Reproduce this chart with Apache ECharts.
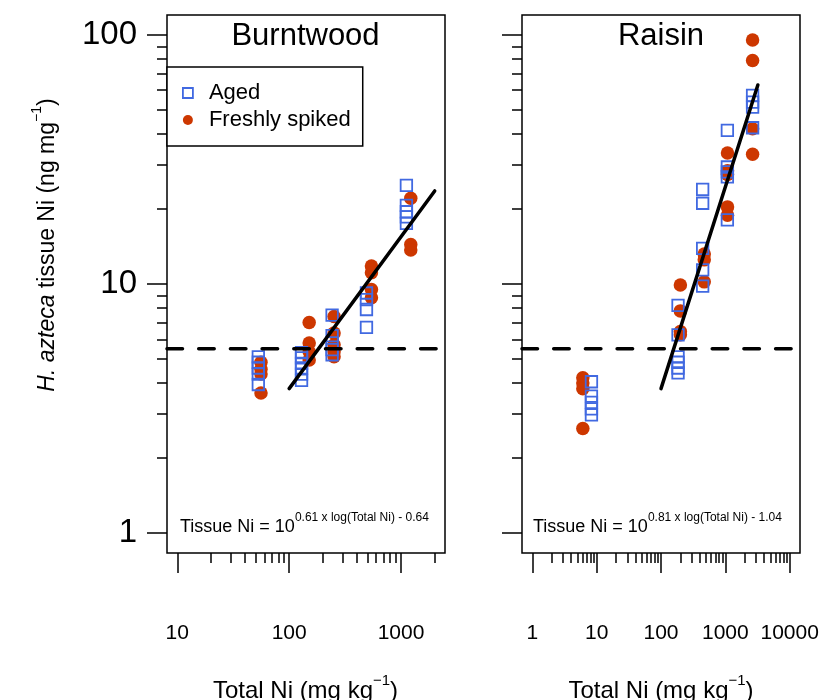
<!DOCTYPE html>
<html>
<head>
<meta charset="utf-8">
<script src="https://cdn.jsdelivr.net/npm/echarts@6/dist/echarts.min.js"></script>
<style>
html, body { margin: 0; background: #fff; }
#chart { width: 822px; height: 700px; }
</style>
</head>
<body>
<div id="chart"></div>
<script>
// [total Ni (mg/kg), tissue Ni (ng/mg)]
var burntwoodAged = [
    [53, 5.1], [53, 4.85], [53, 4.6], [53, 4.35], [53, 3.95],
    [129, 5.3], [129, 5.05], [129, 4.8], [129, 4.6], [129, 4.35], [129, 4.1],
    [242, 7.5], [242, 6.2], [242, 5.8], [242, 5.45], [242, 5.2],
    [491, 9.2], [491, 8.65], [491, 7.9], [491, 6.7],
    [1117, 24.9], [1117, 20.7], [1117, 19.5], [1117, 18.6], [1117, 17.5]
];
var burntwoodSpiked = [
    [56, 4.85], [56, 4.55], [56, 4.35], [56, 3.65],
    [151, 7.0], [151, 5.8], [151, 5.35], [151, 4.95],
    [252, 7.4], [252, 6.35], [252, 5.7], [252, 5.35], [252, 5.1],
    [544, 11.8], [544, 11.1], [544, 9.5], [544, 8.8],
    [1222, 22.1], [1222, 14.4], [1222, 13.7]
];
var raisinAged = [
    [8.3, 4.05], [8.3, 3.55], [8.3, 3.35], [8.3, 3.15], [8.3, 2.98],
    [184, 8.2], [184, 6.25], [184, 5.1], [184, 4.85], [184, 4.6], [184, 4.4],
    [444, 24.0], [444, 21.1], [444, 13.9], [444, 11.4], [444, 9.8],
    [1075, 41.4], [1075, 29.5], [1075, 28.2], [1075, 26.9], [1075, 18.1],
    [2650, 57.2], [2650, 53.7], [2650, 51.3], [2650, 42.4]
];
var raisinSpiked = [
    [6.1, 4.2], [6.1, 4.0], [6.1, 3.8], [6.1, 2.63],
    [200, 9.9], [200, 7.8], [200, 6.45], [200, 6.25],
    [470, 13.2], [470, 12.5], [470, 10.2],
    [1080, 33.6], [1080, 28.5], [1080, 27.5], [1080, 20.4], [1080, 18.9],
    [2650, 95.5], [2650, 78.9], [2650, 42.0], [2650, 33.2]
];

// fitted lines: log(tissue) = slope * log(total) + intercept
var burntwoodFit = [0.61, -0.64];
var burntwoodFitRange = [100, 2000];
var raisinFit = [0.81, -1.04];
var raisinFitRange = [100, 3200];
var thresholdNi = 5.5;

var burntwoodXLim = [10, 2000];
var raisinXLim = [1, 10000];
var yLim = [1, 100];
var burntwoodXTicks = [10, 100, 1000];
var raisinXTicks = [1, 10, 100, 1000, 10000];
var yTicks = [1, 10, 100];

var FONT = '"Liberation Sans", Arial, Helvetica, sans-serif';
var BLUE = '#4169E1';
var RED = '#CD3700';

function L(v) { return Math.log10(v); }

// R style log range: limits padded by 4% on each side
function padLog(lim) {
    var a = L(lim[0]), b = L(lim[1]), d = 0.04 * (b - a);
    return [a - d, b + d];
}

function minorTicks(lim) {
    var out = [];
    for (var e = Math.floor(L(lim[0])); e < Math.ceil(L(lim[1])); e++) {
        for (var m = 2; m <= 9; m++) {
            var v = m * Math.pow(10, e);
            if (v >= lim[0] && v <= lim[1]) out.push(L(v));
        }
    }
    return out;
}

function tickAxis(dim, grid, range, values, len, labels) {
    return {
        type: 'value',
        gridIndex: grid,
        min: range[0],
        max: range[1],
        position: dim === 'x' ? 'bottom' : 'left',
        axisLine: { show: false, onZero: false },
        splitLine: { show: false },
        axisTick: {
            show: true,
            inside: false,
            length: len,
            customValues: values,
            lineStyle: { color: '#000', width: 1.5 }
        },
        axisLabel: {
            show: labels,
            customValues: values,
            formatter: function (v) { return String(Math.round(Math.pow(10, v))); },
            fontFamily: FONT,
            color: '#000',
            fontSize: dim === 'x' ? 21 : 33,
            margin: dim === 'x' ? 70 : 30
        }
    };
}

var bx = padLog(burntwoodXLim);
var rx = padLog(raisinXLim);
var yr = padLog(yLim);

function toLog(arr) {
    return arr.map(function (d) { return [L(d[0]), L(d[1])]; });
}

function fitLine(coef, range) {
    return range.map(function (x) { return [L(x), coef[0] * L(x) + coef[1]]; });
}

function panelSeries(g, aged, spiked, coef, fitRange, xr) {
    return [{
        name: 'Freshly spiked',
        type: 'scatter',
        xAxisIndex: g * 2, yAxisIndex: g * 2,
        symbol: 'circle',
        symbolSize: 13.5,
        itemStyle: { color: RED, opacity: 1 },
        data: toLog(spiked)
    }, {
        name: 'Aged',
        type: 'scatter',
        xAxisIndex: g * 2, yAxisIndex: g * 2,
        symbol: 'rect',
        symbolSize: 11.5,
        itemStyle: { color: 'rgba(255,255,255,0)', borderColor: BLUE, borderWidth: 1.8, opacity: 1 },
        data: toLog(aged)
    }, {
        type: 'line',
        xAxisIndex: g * 2, yAxisIndex: g * 2,
        symbol: 'none',
        silent: true,
        lineStyle: { color: '#000', width: 3.5, type: [15.5, 16.2], cap: 'round' },
        data: [[xr[0], L(thresholdNi)], [xr[1], L(thresholdNi)]]
    }, {
        type: 'line',
        xAxisIndex: g * 2, yAxisIndex: g * 2,
        symbol: 'none',
        silent: true,
        lineStyle: { color: '#000', width: 3.5, cap: 'round' },
        data: fitLine(coef, fitRange)
    }];
}

function eqText(x, slope, icpt) {
    return {
        type: 'text', x: x, y: 511.8,
        style: {
            text: '{a|Tissue Ni = 10}{b|' + slope + ' x log(Total Ni) - ' + icpt + '}',
            fill: '#000',
            align: 'left', textAlign: 'left',
            verticalAlign: 'top', textVerticalAlign: 'top',
            rich: {
                a: { fontSize: 18, fontFamily: FONT, lineHeight: 24, verticalAlign: 'bottom' },
                b: { fontSize: 12, fontFamily: FONT, lineHeight: 12, verticalAlign: 'top' }
            }
        }
    };
}

function xName(x) {
    return {
        type: 'text', x: x, y: 688,
        style: {
            text: '{n|Total Ni (mg kg}{s|\u22121}{n|)}',
            fill: '#000',
            align: 'center', textAlign: 'center',
            verticalAlign: 'middle', textVerticalAlign: 'middle',
            rich: {
                n: { fontSize: 24, fontFamily: FONT, lineHeight: 30, verticalAlign: 'bottom' },
                s: { fontSize: 15, fontFamily: FONT, lineHeight: 10, verticalAlign: 'top' }
            }
        }
    };
}

function titleText(x, text) {
    return {
        type: 'text', x: x, y: 36,
        style: {
            text: text, fill: '#000', fontSize: 31, fontFamily: FONT,
            align: 'center', textAlign: 'center',
            verticalAlign: 'middle', textVerticalAlign: 'middle'
        }
    };
}

var chart = echarts.init(document.getElementById('chart'));

var option = {
    animation: false,
    backgroundColor: '#fff',
    grid: [
        { left: 167, top: 15, width: 278, height: 538, show: true, borderColor: '#000', borderWidth: 1.5, backgroundColor: 'transparent' },
        { left: 522, top: 15, width: 278, height: 538, show: true, borderColor: '#000', borderWidth: 1.5, backgroundColor: 'transparent' }
    ],
    xAxis: [
        tickAxis('x', 0, bx, burntwoodXTicks.map(L), 20, true),
        tickAxis('x', 0, bx, minorTicks(burntwoodXLim), 10, false),
        tickAxis('x', 1, rx, raisinXTicks.map(L), 20, true),
        tickAxis('x', 1, rx, minorTicks(raisinXLim), 10, false)
    ],
    yAxis: [
        tickAxis('y', 0, yr, yTicks.map(L), 20, true),
        tickAxis('y', 0, yr, minorTicks(yLim), 10, false),
        tickAxis('y', 1, yr, yTicks.map(L), 20, false),
        tickAxis('y', 1, yr, minorTicks(yLim), 10, false)
    ],
    legend: {
        orient: 'vertical',
        left: 167,
        top: 67,
        padding: [15, 12, 15, 15],
        itemWidth: 10,
        itemHeight: 10,
        itemGap: 5,
        borderColor: '#000',
        borderWidth: 1.5,
        borderRadius: 0,
        backgroundColor: '#fff',
        selectedMode: false,
        textStyle: { fontSize: 22, fontFamily: FONT, color: '#000', padding: [0, 0, 0, 11] },
        data: [
            { name: 'Aged', icon: 'rect', itemStyle: { color: 'rgba(255,255,255,0)', borderColor: BLUE, borderWidth: 1.8 } },
            { name: 'Freshly spiked', icon: 'circle', itemStyle: { color: RED, borderWidth: 0 } }
        ]
    },
    graphic: [
        titleText(305.5, 'Burntwood'),
        titleText(661, 'Raisin'),
        eqText(180, '0.61', '0.64'),
        eqText(533, '0.81', '1.04'),
        xName(305.5),
        xName(661),
        {
            type: 'text', x: 45, y: 245, rotation: Math.PI / 2,
            style: {
                text: '{i|H. azteca}{n| tissue Ni (ng mg}{s|\u22121}{n|)}',
                fill: '#000',
                align: 'center', textAlign: 'center',
                verticalAlign: 'middle', textVerticalAlign: 'middle',
                rich: {
                    i: { fontSize: 23, fontFamily: FONT, fontStyle: 'italic', lineHeight: 29, verticalAlign: 'bottom' },
                    n: { fontSize: 23, fontFamily: FONT, lineHeight: 29, verticalAlign: 'bottom' },
                    s: { fontSize: 14, fontFamily: FONT, lineHeight: 10, verticalAlign: 'top' }
                }
            }
        }
    ],
    series: [].concat(
        panelSeries(0, burntwoodAged, burntwoodSpiked, burntwoodFit, burntwoodFitRange, bx),
        panelSeries(1, raisinAged, raisinSpiked, raisinFit, raisinFitRange, rx)
    )
};

chart.setOption(option);
</script>
</body>
</html>
